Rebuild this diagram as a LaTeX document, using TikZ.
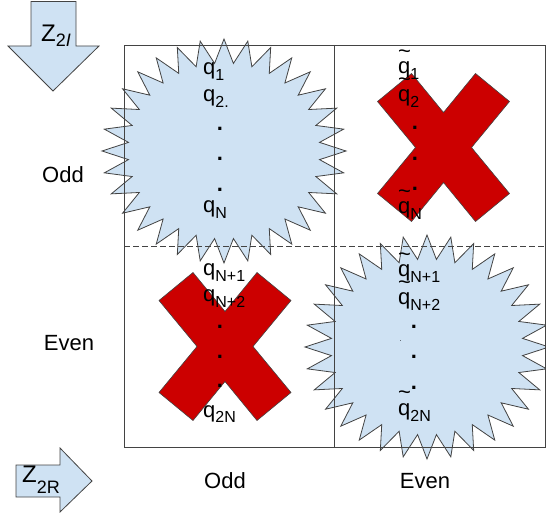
\documentclass[tikz,border=0pt]{standalone}
\usepackage{fontspec}
\setmainfont{Liberation Sans}
\usepackage{tikz}
\usetikzlibrary{positioning}
\usepackage{xcolor}
\definecolor{burstblue}{HTML}{CFE2F3}
\definecolor{crossred}{HTML}{CC0000}
\definecolor{edgegray}{HTML}{434343}

\newcommand{\qsub}[1]{\raisebox{-0.27em}{\fontsize{16}{16}\selectfont #1}}
\newcommand{\tildeq}{\makebox[0pt][l]{\raisebox{0.72em}{\textasciitilde}}q}
\newcommand{\burstshape}[2]{%
  \draw[burst] plot[samples at={0,...,63}, variable=\k]
    ({#1+(122-26*mod(\k,2))*cos(\k*5.625)}, {#2+(112-24*mod(\k,2))*sin(\k*5.625)}) -- cycle;}
\newcommand{\crossmark}[2]{%
  \draw[crossx, shift={(#1,#2)}] (-32,-74) -- (0,-35) -- (32,-74) -- (66,-46) -- (28,0) -- (66,46)
    -- (32,74) -- (0,35) -- (-32,74) -- (-66,46) -- (-28,0) -- (-66,-46) -- cycle;}

\tikzset{
  burst/.style={fill=burstblue, draw=edgegray, line width=0.8pt},
  crossx/.style={fill=crossred, draw=edgegray, line width=0.6pt},
  gridline/.style={draw=edgegray, line width=0.8pt},
  arrowshape/.style={fill=burstblue, draw=edgegray, line width=0.8pt},
  qtext/.style={anchor=base west, inner sep=0pt},
  dottext/.style={anchor=base, inner sep=0pt, font=\fontsize{22}{26}\selectfont\bfseries},
  axislabel/.style={anchor=base, inner sep=0pt},
}

\begin{document}
\begin{tikzpicture}[x=1pt, y=-1pt, font=\fontsize{22}{26}\selectfont]
\useasboundingbox (0,0) rectangle (546,518);
% blobs and crosses
\burstshape{224}{151}
\burstshape{427}{347}
\crossmark{443.5}{147.5}
\crossmark{225}{346.5}
% grid
\draw[gridline] (124,45) rectangle (545,447);
\draw[gridline] (334.5,45) -- (334.5,447);
\draw[gridline, dash pattern=on 6pt off 3pt] (124,246.5) -- (546,246.5);
% arrows
\draw[arrowshape] (31,1.5) -- (76,1.5) -- (76,46) -- (99,46) -- (53,91) -- (8,46) -- (31,46) -- cycle;
\draw[arrowshape] (16,465) -- (60,465) -- (60,448) -- (92,481) -- (60,512) -- (60,497) -- (16,497) -- cycle;
\node[qtext, font=\fontsize{24}{26}\selectfont] (zi) at (41,42) {Z\raisebox{-5pt}{\fontsize{18}{18}\selectfont 2\textit{I}}};
\node[qtext, font=\fontsize{24}{26}\selectfont] (zr) at (22,482) {Z\raisebox{-11pt}{\fontsize{18}{18}\selectfont 2R}};
% axis labels
\node[axislabel] (oddrow) at (63,183) {Odd};
\node[axislabel] (evenrow) at (69,351) {Even};
\node[axislabel] (oddcol) at (225,488) {Odd};
\node[axislabel] (evencol) at (425,488) {Even};
% top left
\node[qtext] (qa1) at (203,75) {q\qsub{1}};
\node[qtext] (qa2) at (203,102) {q\qsub{2.}};
\foreach \y [count=\i] in {131,161,192} \node[dottext] (qad\i) at (220,\y) {.};
\node[qtext] (qaN) at (203,213) {q\qsub{N}};
% top right
\node[qtext] (qb1) at (398,74) {\tildeq\qsub{1}};
\node[qtext] (qb2) at (398,102) {\tildeq\qsub{2}};
\foreach \y [count=\i] in {130,161,191} \node[dottext] (qbd\i) at (415,\y) {.};
\node[qtext] (qbN) at (398,214) {\tildeq\qsub{N}};
% bottom left
\node[qtext] (qc1) at (203,276) {q\qsub{N+1}};
\node[qtext] (qc2) at (203,302) {q\qsub{N+2}};
\foreach \y [count=\i] in {329,359,388} \node[dottext] (qcd\i) at (220,\y) {.};
\node[qtext] (qcN) at (203,417) {q\qsub{2N}};
% bottom right
\node[qtext] (qd1) at (398,277) {\tildeq\qsub{N+1}};
\node[qtext] (qd2) at (398,305) {\tildeq\qsub{N+2}};
\foreach \y [count=\i] in {329,359,389} \node[dottext] (qdd\i) at (414,\y) {.};
\node[anchor=base, inner sep=0pt, font=\fontsize{7}{7}\selectfont] (qdspeck) at (400.7,341.5) {.};
\node[qtext] (qdN) at (398,415.5) {\tildeq\qsub{2N}};
\end{tikzpicture}
\end{document}
